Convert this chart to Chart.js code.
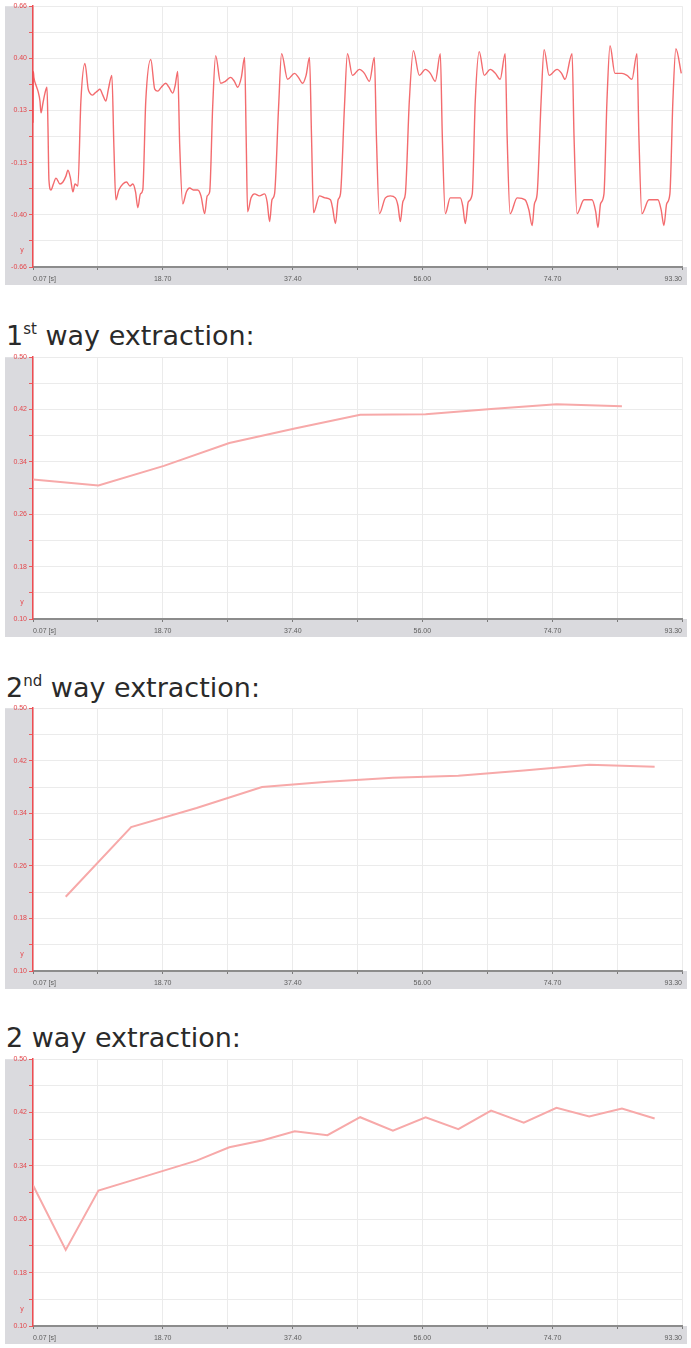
<!DOCTYPE html>
<html>
<head>
<meta charset="utf-8">
<script src="https://cdn.jsdelivr.net/npm/chart.js@4.4.1/dist/chart.umd.min.js"></script>
<style>
  html, body { margin: 0; padding: 0; background: #fff; }
  body { position: relative; width: 691px; height: 1348px; overflow: hidden; }
  .box { position: absolute; left: 5px; width: 682px; }
  .title { position: absolute; left: 6px; font-family: "DejaVu Sans", sans-serif; font-size: 27px;
           line-height: 26px; color: #2a2a2a; white-space: nowrap; }
  .title sup { font-size: 15px; vertical-align: 11px; line-height: 0; }
</style>
</head>
<body>
<div class="box" style="top:0px;height:285px"><canvas id="rawChart"></canvas></div>
<div class="title" style="top:323px">1<sup>st</sup> way extraction:</div>
<div class="box" style="top:351px;height:286px"><canvas id="firstChart"></canvas></div>
<div class="title" style="top:675px">2<sup>nd</sup> way extraction:</div>
<div class="box" style="top:702px;height:287px"><canvas id="secondChart"></canvas></div>
<div class="title" style="top:1025px">2 way extraction:</div>
<div class="box" style="top:1053px;height:291px"><canvas id="bothChart"></canvas></div>

<script>
// ---- time axis (seconds) ----
const xTickValues = [0.07, 9.39, 18.70, 28.05, 37.40, 46.70, 56.00, 65.35, 74.70, 84.00, 93.30];
const xTickLabels = ['0.07 [s]', '18.70', '37.40', '56.00', '74.70', '93.30'];

// ---- raw signal axis ----
const rawTickValues = [-0.66, -0.528, -0.396, -0.264, -0.132, 0, 0.132, 0.264, 0.396, 0.528, 0.66];
const rawTickLabels = ['-0.66', '-0.40', '-0.13', '0.13', '0.40', '0.66'];

// ---- extraction axis ----
const extTickValues = [0.10, 0.14, 0.18, 0.22, 0.26, 0.30, 0.34, 0.38, 0.42, 0.46, 0.50];
const extTickLabels = ['0.10', '0.18', '0.26', '0.34', '0.42', '0.50'];

const axisGlyph = 'y';

// ---- raw signal ----
const signalTime = [
  0.07, 0.12, 0.20, 0.50, 0.79, 1.07, 1.22, 1.50, 1.79, 2.08, 2.22, 2.36, 2.65, 3.00, 3.37, 3.94,
  4.37, 4.80, 5.09, 5.45, 5.81, 6.10, 6.52, 6.95, 7.53,
  8.00, 8.24, 8.60, 8.96, 9.30, 9.68, 10.10, 10.54, 10.90, 11.40, 11.69, 11.97, 12.40, 12.98,
  13.50, 14.00, 14.41, 14.80, 15.13, 15.50, 15.84, 16.27, 16.99,
  17.56, 17.99, 18.50, 19.14, 19.60, 20.15, 20.50, 20.86, 21.15, 21.58, 22.10, 22.58, 23.10,
  23.73, 24.20, 24.73, 25.10, 25.45, 25.88, 26.31,
  27.03, 27.70, 28.46, 29.00, 29.47, 30.00, 30.47, 30.69, 30.90, 31.40, 31.90, 32.60, 33.34,
  33.70, 34.06, 34.40, 34.77, 35.35, 35.78,
  36.64, 37.64, 38.20, 38.79, 39.30, 39.79, 40.08, 40.37, 41.23, 42.00, 42.80, 43.10, 43.52,
  43.90, 44.24, 44.81, 45.24,
  45.96, 46.96, 47.68, 48.40, 49.11, 49.40, 49.83, 50.69, 51.40, 52.12, 52.50, 52.84, 53.20,
  53.56, 54.13, 54.71,
  55.57, 56.43, 57.15, 57.86, 58.58, 58.87, 59.30, 60.01, 61.45, 61.80, 62.17, 62.60, 63.17,
  63.60, 64.17,
  64.89, 65.75, 66.50, 67.18, 67.90, 68.18, 68.61, 69.62, 70.77, 71.30, 71.77, 72.10, 72.49,
  73.06, 73.49,
  74.21, 75.35, 76.00, 76.50, 77.51, 77.79, 78.22, 79.23, 80.37, 80.90, 81.23, 81.60, 82.09,
  82.52, 82.96,
  83.67, 84.68, 85.40, 86.11, 86.83, 87.11, 87.54, 88.55, 89.84, 90.30, 90.70, 91.10, 91.56,
  91.99, 92.42, 93.20
];
const signalValue = [
  0.07, 0.33, 0.30, 0.26, 0.23, 0.18, 0.12, 0.17, 0.22, 0.25, 0.05, -0.22, -0.27, -0.24, -0.21, -0.24,
  -0.23, -0.20, -0.17, -0.21, -0.28, -0.24, -0.25, 0.18, 0.37,
  0.24, 0.22, 0.21, 0.22, 0.23, 0.24, 0.21, 0.18, 0.24, 0.31, -0.05, -0.32, -0.27, -0.24,
  -0.23, -0.25, -0.24, -0.28, -0.36, -0.29, -0.27, 0.18, 0.39,
  0.24, 0.23, 0.25, 0.27, 0.25, 0.22, 0.26, 0.33, -0.05, -0.34, -0.28, -0.26, -0.27,
  -0.27, -0.30, -0.39, -0.30, -0.28, 0.15, 0.41,
  0.27, 0.28, 0.30, 0.28, 0.25, 0.30, 0.40, 0.00, -0.38, -0.31, -0.29, -0.30, -0.29,
  -0.33, -0.43, -0.32, -0.29, 0.15, 0.42,
  0.29, 0.32, 0.30, 0.27, 0.31, 0.40, 0.00, -0.385, -0.30, -0.31, -0.32, -0.36, -0.44,
  -0.32, -0.29, 0.15, 0.42,
  0.31, 0.34, 0.32, 0.28, 0.40, 0.00, -0.39, -0.31, -0.30, -0.31, -0.35, -0.43, -0.33,
  -0.29, 0.18, 0.435,
  0.31, 0.34, 0.32, 0.28, 0.42, 0.00, -0.39, -0.31, -0.31, -0.35, -0.44, -0.33, -0.29,
  0.18, 0.43,
  0.31, 0.34, 0.32, 0.29, 0.42, 0.00, -0.39, -0.31, -0.32, -0.37, -0.45, -0.34, -0.29,
  0.18, 0.44,
  0.31, 0.34, 0.32, 0.29, 0.42, 0.00, -0.39, -0.32, -0.32, -0.38, -0.46, -0.34, -0.29,
  0.18, 0.46,
  0.32, 0.32, 0.31, 0.29, 0.42, 0.00, -0.39, -0.32, -0.32, -0.37, -0.45, -0.34, -0.29,
  0.18, 0.445, 0.32
];

// ---- 1st way extraction ----
const firstTime  = [0.07, 9.47, 18.87, 28.27, 37.67, 47.07, 56.47, 65.87, 75.27, 84.67];
const firstValue = [0.313, 0.304, 0.334, 0.369, 0.391, 0.412, 0.413, 0.421, 0.428, 0.425];

// ---- 2nd way extraction ----
const secondTime  = [4.77, 14.17, 23.57, 32.97, 42.37, 51.77, 61.17, 70.57, 79.97, 89.37];
const secondValue = [0.213, 0.319, 0.348, 0.380, 0.388, 0.394, 0.397, 0.405, 0.414, 0.411];

// ---- 2 way extraction ----
const bothTime  = [0.07, 4.77, 9.47, 14.17, 18.87, 23.57, 28.27, 32.97, 37.67, 42.37,
                   47.07, 51.77, 56.47, 61.17, 65.87, 70.57, 75.27, 79.97, 84.67, 89.37];
const bothValue = [0.311, 0.214, 0.303, 0.318, 0.333, 0.348, 0.368, 0.378, 0.392, 0.386,
                   0.413, 0.393, 0.413, 0.395, 0.423, 0.405, 0.427, 0.414, 0.426, 0.411];

// gray axis panels and the small axis glyph
const axisPanels = {
  id: 'axisPanels',
  beforeDraw(chart) {
    const { ctx, chartArea, scales } = chart;
    const y = scales.y, x = scales.x;
    ctx.save();
    ctx.fillStyle = '#dadade';
    ctx.fillRect(y.left, chartArea.top, y.right - y.left, chart.height - chartArea.top);
    ctx.fillRect(y.left, x.top, chart.width - y.left, x.bottom - x.top);
    ctx.fillStyle = '#ffffff';
    ctx.fillRect(chartArea.left, chartArea.top, chartArea.right - chartArea.left, chartArea.bottom - chartArea.top);
    ctx.restore();
  },
  afterDraw(chart) {
    const { ctx, chartArea, scales } = chart;
    ctx.save();
    ctx.fillStyle = '#e8494e';
    ctx.font = '7px "Liberation Sans"';
    ctx.textAlign = 'center';
    ctx.fillText(axisGlyph, scales.y.right - 11, chartArea.bottom - 15);
    ctx.restore();
  }
};

function pairs(ts, vs) { return ts.map((t, i) => ({ x: t, y: vs[i] })); }

function makeChart(id, data, yTicks, yLabels, padTop, line) {
  return new Chart(document.getElementById(id), {
    type: 'line',
    data: {
      datasets: [{
        data: data,
        borderColor: line.color,
        borderWidth: line.width,
        pointRadius: 0,
        cubicInterpolationMode: line.smooth ? 'monotone' : 'default',
        tension: 0,
        fill: false
      }]
    },
    options: {
      responsive: true,
      maintainAspectRatio: false,
      animation: false,
      events: [],
      layout: { padding: { top: padTop, right: 2, left: 0, bottom: 0 } },
      plugins: { legend: { display: false }, tooltip: { enabled: false } },
      scales: {
        x: {
          type: 'linear',
          min: xTickValues[0],
          max: xTickValues[xTickValues.length - 1],
          afterBuildTicks: s => { s.ticks = xTickValues.map(v => ({ value: v })); },
          afterFit: s => { s.height = 18; },
          ticks: {
            autoSkip: false, maxRotation: 0, minRotation: 0, align: 'inner', padding: 5,
            color: '#5e5e5e', font: { size: 7, family: 'Liberation Sans' },
            callback: (v, i) => (i % 2 === 0 ? xTickLabels[i / 2] : '')
          },
          grid: { color: '#ebebeb', lineWidth: 1, tickLength: 3, tickColor: '#7a7a7a' },
          border: { color: '#8c8c8c', width: 2 }
        },
        y: {
          type: 'linear',
          min: yTicks[0],
          max: yTicks[yTicks.length - 1],
          afterBuildTicks: s => { s.ticks = yTicks.map(v => ({ value: v })); },
          afterFit: s => { s.width = 28; },
          ticks: {
            autoSkip: false, padding: 2,
            color: '#e4474c', font: { size: 7, family: 'Liberation Sans' },
            callback: (v, i) => (i % 2 === 0 ? yLabels[i / 2] : '')
          },
          grid: { color: '#ebebeb', lineWidth: 1, tickLength: 4, tickColor: '#ea5a5e' },
          border: { color: '#ef4d52', width: 1.5 }
        }
      }
    },
    plugins: [axisPanels]
  });
}

makeChart('rawChart', pairs(signalTime, signalValue), rawTickValues, rawTickLabels, 5.6,
  { color: 'rgba(240,70,74,0.8)', width: 1.4, smooth: true });
makeChart('firstChart', pairs(firstTime, firstValue), extTickValues, extTickLabels, 5.5,
  { color: '#f7a9a9', width: 2, smooth: false });
makeChart('secondChart', pairs(secondTime, secondValue), extTickValues, extTickLabels, 6,
  { color: '#f7a9a9', width: 2, smooth: false });
makeChart('bothChart', pairs(bothTime, bothValue), extTickValues, extTickLabels, 5.5,
  { color: '#f7a9a9', width: 2, smooth: false });
</script>
</body>
</html>
